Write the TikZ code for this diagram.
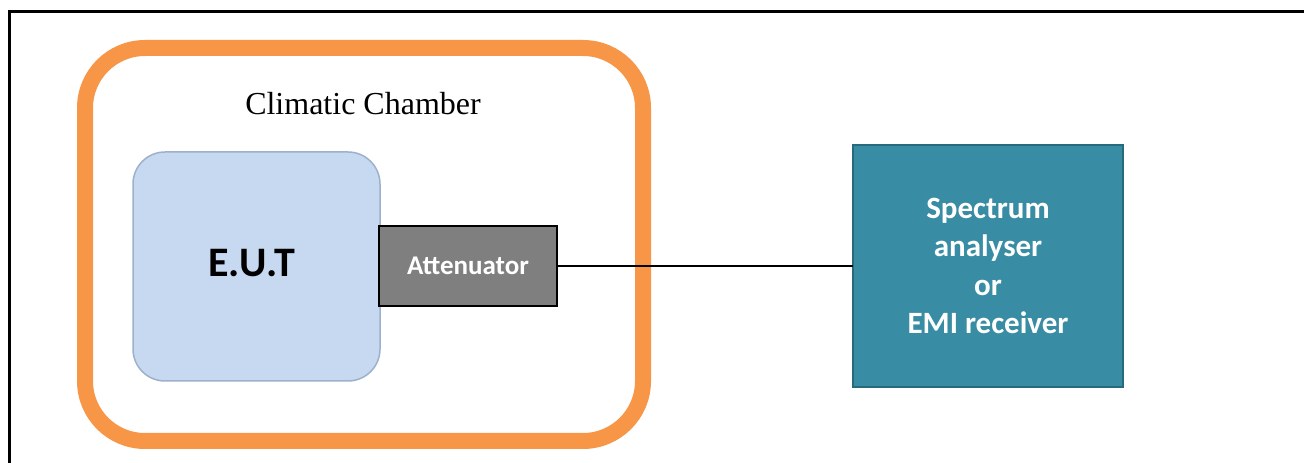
\documentclass[tikz,border=0pt]{standalone}
\usepackage{fontspec}
\setmainfont{Liberation Serif}
\newfontfamily\calibri{Carlito}
\usepackage{tikz}
\usetikzlibrary{positioning}

\definecolor{chamberorange}{HTML}{F79646}
\definecolor{eutblue}{HTML}{C6D9F1}
\definecolor{eutedge}{HTML}{9DB1CB}
\definecolor{attgray}{HTML}{7F7F7F}
\definecolor{specteal}{HTML}{388CA3}
\definecolor{specedge}{HTML}{276A7C}

\begin{document}
\begin{tikzpicture}[x=1pt, y=1pt,
    box/.style={inner sep=0pt, outer sep=0pt, align=center},
    whitetext/.style={text=white, font=\calibri\bfseries}]
    \useasboundingbox (0,0) rectangle (1304,463);
    \draw[line width=3pt] (9,0) -- (9,451) -- (1304,451);

    \node[box, draw=chamberorange, line width=16pt, rounded corners=60pt,
          minimum width=558pt, minimum height=393pt] (chamber) at (364,218.5) {};
    \node[font=\fontsize{32}{38}\selectfont] (title) at (363,359) {Climatic Chamber};

    \node[box, fill=eutblue, draw=eutedge, line width=1.5pt, rounded corners=32pt,
          minimum width=247pt, minimum height=229pt] (eut) at (256.5,196.5) {};
    \node[font=\calibri\bfseries\fontsize{42}{48}\selectfont] (euttext) at (252,200) {E.U.T};
    \node[box, whitetext, fill=attgray, draw=black, line width=1.2pt,
          minimum width=178pt, minimum height=80pt,
          font=\calibri\bfseries\fontsize{27}{32}\selectfont] (att) at (468,197) {Attenuator};
    \node[box, whitetext, fill=specteal, draw=specedge, line width=1.2pt,
          minimum width=270pt, minimum height=242pt,
          font=\calibri\bfseries\fontsize{31}{38.3}\selectfont] (spec) at (988,197)
          {Spectrum\\analyser\\or\\EMI receiver};

    \draw[line width=2.5pt] (att.east) -- (spec.west);
\end{tikzpicture}
\end{document}
